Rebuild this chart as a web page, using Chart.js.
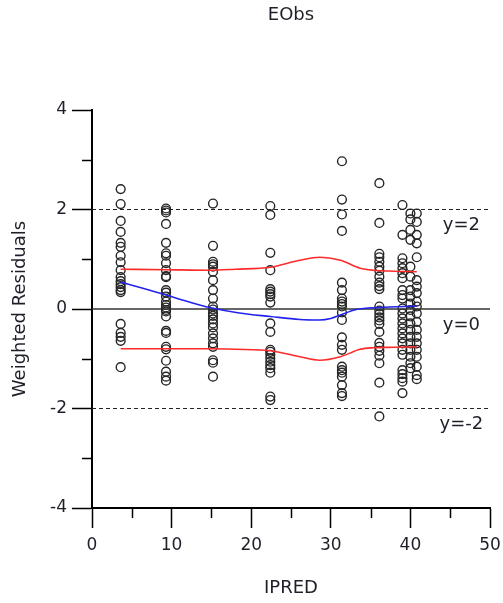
<!DOCTYPE html>
<html><head><meta charset="utf-8">
<script src="https://cdn.jsdelivr.net/npm/chart.js@4.4.1/dist/chart.umd.min.js"></script>
<style>html,body{margin:0;padding:0;background:#fff;}</style>
</head><body>
<canvas id="c" width="503" height="603"></canvas>
<script>
// ---- data ----
const clusterX = [3.6, 9.3, 15.2, 22.4, 31.4, 36.1, 39.0, 40.0, 40.8];
const res1 = [2.41, 2.11, 1.77, 1.55, 1.33, 1.25, 1.07, 0.94, 0.78, 0.64, 0.56, 0.50, 0.44, 0.38, 0.34, -0.30, -0.48, -0.56, -0.64, -1.17];
const res2 = [2.02, 1.98, 1.94, 1.71, 1.33, 1.12, 1.07, 0.92, 0.78, 0.66, 0.64, 0.38, 0.33, 0.25, 0.15, 0.08, 0.03, -0.02, -0.05, -0.15, -0.44, -0.48, -0.76, -0.81, -1.04, -1.26, -1.36, -1.44];
const res3 = [2.12, 1.27, 0.95, 0.90, 0.85, 0.75, 0.58, 0.38, 0.21, 0.05, -0.01, -0.09, -0.14, -0.21, -0.29, -0.37, -0.49, -0.59, -0.69, -0.76, -1.03, -1.08, -1.36];
const res4 = [2.07, 1.89, 1.13, 0.78, 0.40, 0.35, 0.30, 0.25, 0.13, -0.29, -0.46, -0.82, -0.86, -0.92, -0.99, -1.06, -1.13, -1.19, -1.28, -1.76, -1.83];
const res5 = [2.97, 2.20, 1.90, 1.57, 0.53, 0.38, 0.21, 0.15, 0.10, 0.05, -0.07, -0.22, -0.57, -0.72, -0.82, -1.16, -1.23, -1.28, -1.36, -1.53, -1.69, -1.75];
const res6 = [2.53, 1.73, 1.11, 1.04, 0.95, 0.85, 0.77, 0.65, 0.53, 0.46, 0.40, 0.05, -0.03, -0.10, -0.17, -0.23, -0.30, -0.46, -0.68, -0.76, -0.84, -0.94, -1.09, -1.48, -2.16];
const res7 = [2.09, 1.49, 1.02, 0.92, 0.82, 0.72, 0.62, 0.38, 0.28, 0.21, 0.01, -0.09, -0.19, -0.29, -0.39, -0.49, -0.59, -0.69, -0.82, -0.92, -1.23, -1.31, -1.39, -1.46, -1.69];
const res8 = [1.92, 1.80, 1.59, 1.39, 0.85, 0.65, 0.38, 0.25, 0.11, -0.02, -0.15, -0.29, -0.42, -0.56, -0.69, -0.82, -0.96, -1.09, -1.19];
const res9 = [1.92, 1.75, 1.49, 1.32, 1.04, 0.58, 0.45, 0.32, 0.15, 0.05, -0.09, -0.26, -0.42, -0.56, -0.69, -0.82, -0.96, -1.16, -1.33, -1.41];
const clusterRes = [res1, res2, res3, res4, res5, res6, res7, res8, res9];

const bandX = [3.6, 9.3, 14.8, 18.0, 22.4, 26.1, 28.6, 31.2, 33.7, 35.3, 38.0, 40.8];
const upperY = [0.80, 0.79, 0.78, 0.80, 0.84, 0.98, 1.04, 0.98, 0.82, 0.78, 0.76, 0.75];
const lowerY = [-0.80, -0.80, -0.80, -0.81, -0.84, -0.96, -1.03, -0.96, -0.81, -0.78, -0.77, -0.76];

const trendX = [3.6, 6.5, 9.3, 12.0, 14.8, 18.5, 22.4, 26.1, 28.6, 30.0, 31.2, 33.2, 36.1, 40.8];
const trendY = [0.54, 0.41, 0.28, 0.15, 0.03, -0.08, -0.15, -0.21, -0.22, -0.19, -0.12, -0.01, 0.03, 0.06];

const refLevels = [2, 0, -2];
const refLabels = ['y=2', 'y=0', 'y=-2'];
const xTicks = [0, 10, 20, 30, 40, 50];
const yTicks = [-4, -2, 0, 2, 4];

// ---- build ----
const FONT = 'DejaVu Sans';
const TXT = '#1f1f2a';
const scatterPts = [];
clusterRes.forEach((arr, i) => arr.forEach(v => scatterPts.push({x: clusterX[i], y: v})));
const toPts = (xs, ys) => xs.map((x, i) => ({x, y: ys[i]}));

const datasets = [
  {type:'line', data: toPts(trendX, trendY), borderColor:'#2222ee', borderWidth:1.6, pointRadius:0, fill:false, cubicInterpolationMode:'monotone'},
  {type:'line', data: toPts(bandX, upperY), borderColor:'#ff2a2a', borderWidth:1.6, pointRadius:0, fill:false, cubicInterpolationMode:'monotone'},
  {type:'line', data: toPts(bandX, lowerY), borderColor:'#ff2a2a', borderWidth:1.6, pointRadius:0, fill:false, cubicInterpolationMode:'monotone'},
  {type:'line', data: [{x:0,y:refLevels[1]},{x:50,y:refLevels[1]}], borderColor:'#333', borderWidth:1.5, pointRadius:0, fill:false},
  {type:'line', data: [{x:0,y:refLevels[0]},{x:50,y:refLevels[0]}], borderColor:'#222', borderWidth:1, borderDash:[4,3], pointRadius:0, fill:false},
  {type:'line', data: [{x:0,y:refLevels[2]},{x:50,y:refLevels[2]}], borderColor:'#222', borderWidth:1, borderDash:[4,3], pointRadius:0, fill:false},
  {type:'scatter', data: scatterPts, pointStyle:'circle', pointRadius:4.4, borderWidth:1.4, borderColor:'#262626', backgroundColor:'rgba(0,0,0,0)'}
];

const extras = {
  id: 'extras',
  afterDraw(chart) {
    const {ctx, scales: {x, y}} = chart;
    ctx.save();
    ctx.strokeStyle = '#000';
    ctx.lineWidth = 1.5;
    // minor ticks
    for (let v = 5; v < 50; v += 10) {
      const px = Math.round(x.getPixelForValue(v)) + 0.5;
      ctx.beginPath(); ctx.moveTo(px, y.bottom); ctx.lineTo(px, y.bottom + 10); ctx.stroke();
    }
    for (let v = -3; v <= 3; v += 2) {
      const py = Math.round(y.getPixelForValue(v)) + 0.5;
      ctx.beginPath(); ctx.moveTo(x.left - 10, py); ctx.lineTo(x.left, py); ctx.stroke();
    }
    // reference line labels
    ctx.fillStyle = TXT;
    ctx.font = '18px "' + FONT + '"';
    ctx.textAlign = 'center';
    ctx.textBaseline = 'middle';
    refLevels.forEach((lv, i) => {
      ctx.fillText(refLabels[i], x.getPixelForValue(46.4), y.getPixelForValue(lv - 0.32));
    });
    ctx.restore();
  }
};

new Chart(document.getElementById('c'), {
  type: 'scatter',
  data: { datasets },
  options: {
    responsive: false, animation: false, devicePixelRatio: 1,
    layout: { padding: { left: 0, right: 13, top: 0, bottom: 0 } },
    plugins: {
      legend: { display: false }, tooltip: { enabled: false },
      title: { display: true, text: 'EObs', fullSize: false, color: TXT,
        font: { family: FONT, size: 18, weight: 'normal' }, padding: { top: 5, bottom: 83.4 } }
    },
    scales: {
      x: {
        type: 'linear', min: 0, max: 50, position: 'bottom',
        afterBuildTicks: s => { s.ticks = xTicks.map(v => ({value: v})); },
        ticks: { font: { family: FONT, size: 17 }, color: TXT, padding: 7, maxRotation: 0, autoSkip: false },
        grid: { drawOnChartArea: false, tickLength: 20, tickColor: '#000', tickWidth: 1.5 },
        border: { display: true, color: '#000', width: 2 },
        title: { display: true, text: 'IPRED', color: TXT, font: { family: FONT, size: 18 }, padding: { top: 0, bottom: 4 } },
        afterFit: s => { s.height = 95; s.paddingLeft = 0; s.paddingRight = 0; }
      },
      y: {
        type: 'linear', min: -4, max: 4, position: 'left',
        afterBuildTicks: s => { s.ticks = yTicks.map(v => ({value: v})); },
        ticks: { font: { family: FONT, size: 17 }, color: TXT, padding: 5, autoSkip: false },
        grid: { drawOnChartArea: false, tickLength: 20, tickColor: '#000', tickWidth: 1.5 },
        border: { display: true, color: '#000', width: 2 },
        title: { display: true, text: 'Weighted Residuals', color: TXT, font: { family: FONT, size: 18 }, padding: { top: 10, bottom: 0 } },
        afterFit: s => { s.width = 92; s.paddingTop = 0; s.paddingBottom = 0; }
      }
    }
  },
  plugins: [extras]
});
</script>
</body></html>
